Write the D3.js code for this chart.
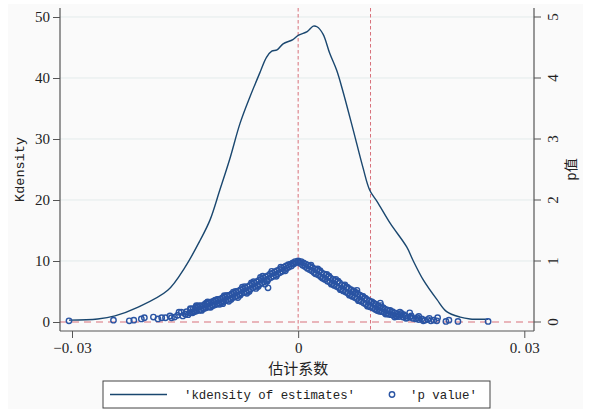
<!DOCTYPE html>
<html>
<head>
<meta charset="utf-8">
<script src="https://cdn.jsdelivr.net/npm/d3@7"></script>
<style>
  body { margin: 0; background: #ffffff; }
  svg { display: block; }
</style>
</head>
<body>
<div id="chart"></div>
<script>
// kdensity of estimates: [estimate, density]
var kdensity = [
  [-0.0304, 0.3], [-0.0266, 0.5], [-0.0243, 1.0], [-0.0213, 2.4], [-0.0173, 5.2],
  [-0.0150, 9.0], [-0.0130, 13.4], [-0.0117, 16.7], [-0.0104, 21.6], [-0.0091, 26.6],
  [-0.0077, 32.6], [-0.0064, 36.9], [-0.0051, 40.8], [-0.0042, 43.4], [-0.0035, 44.4],
  [-0.0028, 44.6], [-0.0020, 45.6], [-0.0007, 46.3], [0.0000, 47.0], [0.0012, 47.6],
  [0.0020, 48.5], [0.0025, 48.4], [0.0033, 47.2], [0.0042, 44.0], [0.0051, 41.3],
  [0.0059, 38.0], [0.0073, 31.5], [0.0086, 25.3], [0.0095, 21.6], [0.0105, 19.7],
  [0.0122, 16.2], [0.0144, 12.3], [0.0152, 10.2], [0.0166, 6.9], [0.0184, 3.7],
  [0.0197, 1.7], [0.0215, 0.8], [0.0228, 0.5], [0.0252, 0.45]
]

// p value of each estimate: [estimate, p]
var pLeft = [
  [-0.0304,0.02],[-0.0245,0.03],[-0.0224,0.02],[-0.0218,0.03],[-0.0208,0.05],[-0.0204,0.07],
  [-0.0192,0.08],[-0.0186,0.05],[-0.0181,0.07],[-0.0176,0.07],[-0.0170,0.10],[-0.0168,0.07],
  [-0.0164,0.08],[-0.0158,0.16],[-0.0153,0.10],[-0.0150,0.13],[-0.0148,0.17],[-0.0146,0.12],
  [-0.0144,0.15],[-0.0141,0.16],[-0.0142,0.21],[-0.0138,0.17],[-0.0139,0.22],[-0.0135,0.18],
  [-0.0136,0.24],[-0.0132,0.19],[-0.0133,0.25],[-0.0129,0.20],[-0.0130,0.26],[-0.0126,0.22],
  [-0.0127,0.27],[-0.0123,0.23],[-0.0124,0.29],[-0.0120,0.24],[-0.0121,0.30],[-0.0117,0.25],
  [-0.0118,0.31],[-0.0114,0.27],[-0.0115,0.33],[-0.0111,0.28],[-0.0112,0.34],[-0.0108,0.29],
  [-0.0109,0.35],[-0.0105,0.31],[-0.0106,0.37],[-0.0102,0.32],[-0.0103,0.38],[-0.0099,0.34],
  [-0.0100,0.40],[-0.0096,0.35],[-0.0097,0.41],[-0.0093,0.37],[-0.0094,0.43],[-0.0090,0.38],
  [-0.0091,0.44],[-0.0087,0.40],[-0.0088,0.46],[-0.0084,0.41],[-0.0085,0.47],[-0.0081,0.43],
  [-0.0082,0.49],[-0.0078,0.45],[-0.0079,0.51],[-0.0075,0.47],[-0.0076,0.53],[-0.0072,0.48],
  [-0.0073,0.54],[-0.0069,0.50],[-0.0070,0.56],[-0.0066,0.52],[-0.0067,0.58],[-0.0063,0.54],
  [-0.0064,0.60],[-0.0060,0.56],[-0.0061,0.62],[-0.0057,0.58],[-0.0058,0.64],[-0.0054,0.60],
  [-0.0055,0.66],[-0.0051,0.62],[-0.0052,0.68],[-0.0048,0.64],[-0.0049,0.70],[-0.0045,0.66],
  [-0.0046,0.72],[-0.0042,0.68],[-0.0043,0.74],[-0.0039,0.71],[-0.0040,0.76],[-0.0036,0.73],
  [-0.0037,0.79],[-0.0033,0.75],[-0.0034,0.80],[-0.0030,0.77],[-0.0031,0.82],[-0.0027,0.79],
  [-0.0028,0.84],[-0.0024,0.81],[-0.0025,0.86],[-0.0021,0.83],[-0.0022,0.88],[-0.0018,0.86],
  [-0.0019,0.90],[-0.0015,0.88],[-0.0016,0.92],[-0.0012,0.90],[-0.0013,0.94],[-0.0009,0.92],
  [-0.0010,0.95],[-0.0006,0.95],[-0.0007,0.97],[-0.0003,0.97],[-0.0004,0.99],[-0.0001,0.99],
  [-0.0040,0.56],[-0.0120,0.33],[-0.0100,0.30],[-0.0135,0.27],[-0.0160,0.11],
  [-0.0017,0.84],[-0.0023,0.90],[-0.0029,0.75],[-0.0035,0.83],[-0.0041,0.67],[-0.0047,0.75],
  [-0.0053,0.58],[-0.0059,0.66],[-0.0065,0.50],[-0.0071,0.58],[-0.0077,0.44],[-0.0083,0.50],
  [-0.0089,0.37],[-0.0095,0.43],[-0.0101,0.32],[-0.0107,0.37],[-0.0113,0.27],[-0.0119,0.32],
  [-0.0125,0.22],[-0.0131,0.27],[-0.0137,0.18],[-0.0143,0.22],[-0.0149,0.13],[-0.0155,0.16],
  [-0.0044,0.62],[-0.0050,0.73],[-0.0056,0.55],[-0.0062,0.64],[-0.0068,0.47],[-0.0074,0.57],
  [-0.0080,0.40],[-0.0086,0.49],[-0.0092,0.34],[-0.0098,0.43],[-0.0104,0.29],[-0.0110,0.36],
  [-0.0116,0.24],[-0.0122,0.31],[-0.0128,0.19],[-0.0134,0.26],[-0.0140,0.15]
]

var pRight = [
  [0.0000,1.00],[0.0001,0.99],[0.0003,0.96],[0.0004,0.99],[0.0006,0.93],[0.0007,0.97],
  [0.0009,0.91],[0.0010,0.95],[0.0012,0.88],[0.0013,0.93],[0.0015,0.86],[0.0016,0.91],
  [0.0018,0.84],[0.0019,0.89],[0.0021,0.81],[0.0022,0.87],[0.0024,0.79],[0.0025,0.85],
  [0.0027,0.77],[0.0028,0.83],[0.0030,0.74],[0.0031,0.81],[0.0033,0.72],[0.0034,0.79],
  [0.0036,0.70],[0.0037,0.77],[0.0039,0.67],[0.0040,0.74],[0.0042,0.65],[0.0043,0.72],
  [0.0045,0.63],[0.0046,0.70],[0.0048,0.60],[0.0049,0.68],[0.0051,0.58],[0.0052,0.66],
  [0.0054,0.56],[0.0055,0.64],[0.0057,0.54],[0.0058,0.61],[0.0060,0.51],[0.0061,0.59],
  [0.0063,0.49],[0.0064,0.57],[0.0066,0.47],[0.0067,0.55],[0.0069,0.45],[0.0070,0.53],
  [0.0072,0.42],[0.0073,0.50],[0.0075,0.40],[0.0076,0.48],[0.0078,0.38],[0.0079,0.46],
  [0.0081,0.36],[0.0082,0.44],[0.0084,0.34],[0.0085,0.42],[0.0087,0.31],[0.0088,0.39],
  [0.0090,0.29],[0.0091,0.37],[0.0093,0.27],[0.0094,0.35],[0.0096,0.25],[0.0097,0.33],
  [0.0099,0.23],[0.0100,0.31],[0.0102,0.21],[0.0103,0.29],[0.0105,0.19],[0.0106,0.27],
  [0.0108,0.18],[0.0109,0.24],[0.0111,0.17],[0.0112,0.23],[0.0114,0.16],[0.0115,0.21],
  [0.0117,0.14],[0.0118,0.20],[0.0120,0.13],[0.0121,0.18],[0.0123,0.12],[0.0124,0.16],
  [0.0126,0.11],[0.0128,0.15],[0.0130,0.10],[0.0132,0.13],[0.0134,0.09],[0.0136,0.12],
  [0.0139,0.08],[0.0142,0.10],[0.0145,0.07],[0.0148,0.08],[0.0152,0.06],[0.0156,0.05],
  [0.0160,0.04],[0.0164,0.05],[0.0168,0.03],[0.0172,0.04],[0.0176,0.02],[0.0180,0.03],
  [0.0184,0.02],[0.0196,0.01],[0.0200,0.03],[0.0212,0.01],[0.0252,0.01],
  [0.0109,0.31],[0.0078,0.52],[0.0148,0.15],[0.0185,0.07],[0.0160,0.09],[0.0135,0.16],
  [0.0017,0.93],[0.0023,0.79],[0.0029,0.84],[0.0035,0.70],[0.0041,0.75],[0.0047,0.61],
  [0.0053,0.67],[0.0059,0.52],[0.0065,0.57],[0.0071,0.43],[0.0077,0.48],[0.0083,0.34],
  [0.0089,0.39],[0.0095,0.25],[0.0101,0.30],[0.0107,0.18],[0.0113,0.23],[0.0119,0.13],
  [0.0125,0.17],[0.0131,0.09],[0.0137,0.14],[0.0143,0.06],[0.0150,0.10],[0.0158,0.07],
  [0.0166,0.02],[0.0174,0.06],
  [0.0026,0.87],[0.0032,0.72],[0.0038,0.78],[0.0044,0.62],[0.0050,0.70],[0.0056,0.53],
  [0.0062,0.61],[0.0068,0.44],[0.0074,0.51],[0.0080,0.35],[0.0086,0.42],[0.0092,0.26],
  [0.0098,0.33],[0.0104,0.20],[0.0110,0.27],[0.0116,0.13],[0.0122,0.19],[0.0128,0.08],
  [0.0140,0.12]
]

var xTicks = [-0.03, 0, 0.03]
var xTickLabels = ["\u22120. 03", "0", "0. 03"]
var yTicks = [0, 10, 20, 30, 40, 50]
var y2Ticks = [0, 1, 2, 3, 4, 5]
var refX = [0, 0.0096]   // vertical reference lines
var refY = 0             // horizontal reference line

var width = 591, height = 409
var plot = { left: 60, right: 534, top: 8, bottom: 331 }

var navy = "#1a476f", blue = "#2a54a3", red = "#d8707a"

var svg = d3.select("#chart").append("svg")
  .attr("width", width)
  .attr("height", height)

// graph region
svg.append("rect")
  .attr("x", 8).attr("y", 4)
  .attr("width", 575).attr("height", 405)
  .attr("fill", "#fafafa")

var xScale = d3.scaleLinear().domain([-0.03, 0.03]).range([72, 524.3])
var yScale = d3.scaleLinear().domain([0, 50]).range([322, 17])
var y2Scale = d3.scaleLinear().domain([0, 5]).range([322, 17])

// gridlines
svg.append("g")
  .selectAll("line")
  .data(yTicks.filter(d => d > 0))
  .enter().append("line")
  .attr("x1", plot.left).attr("x2", plot.right)
  .attr("y1", d => yScale(d)).attr("y2", d => yScale(d))
  .attr("stroke", "#e3ebeb")
  .attr("stroke-width", 1)

// reference lines
svg.append("g")
  .selectAll("line")
  .data(refX)
  .enter().append("line")
  .attr("x1", d => xScale(d)).attr("x2", d => xScale(d))
  .attr("y1", plot.top).attr("y2", plot.bottom)
  .attr("stroke", red)
  .attr("stroke-width", 1)
  .attr("stroke-dasharray", "3.5,2.5")

svg.append("line")
  .attr("x1", plot.left).attr("x2", plot.right)
  .attr("y1", yScale(refY)).attr("y2", yScale(refY))
  .attr("stroke", red)
  .attr("stroke-width", 1)
  .attr("stroke-dasharray", "7,5")

// kdensity curve
var line = d3.line()
  .x(d => xScale(d[0]))
  .y(d => yScale(d[1]))
  .curve(d3.curveCatmullRom)

svg.append("path")
  .datum(kdensity)
  .attr("d", line)
  .attr("fill", "none")
  .attr("stroke", navy)
  .attr("stroke-width", 1.4)

// p values
svg.append("g")
  .selectAll("circle")
  .data(pLeft.concat(pRight))
  .enter().append("circle")
  .attr("cx", d => xScale(d[0]))
  .attr("cy", d => y2Scale(d[1]))
  .attr("r", 2.7)
  .attr("fill", "none")
  .attr("stroke", blue)
  .attr("stroke-width", 1.4)

// axes
var tickFont = "'Liberation Serif', 'DejaVu Serif', serif"

var yAxis = d3.axisLeft(yScale).tickValues(yTicks).tickSize(7).tickPadding(3)
var gy = svg.append("g")
  .attr("transform", "translate(" + plot.left + ",0)")
  .call(yAxis)
gy.select(".domain").remove()

var y2Axis = d3.axisRight(y2Scale).tickValues(y2Ticks)
  .tickFormat(d3.format("d")).tickSize(7).tickPadding(3)
var gy2 = svg.append("g")
  .attr("transform", "translate(" + plot.right + ",0)")
  .call(y2Axis)
gy2.select(".domain").remove()
gy2.selectAll(".tick").attr("transform", "translate(0,0)")
gy2.selectAll(".tick line")
  .attr("y1", d => y2Scale(d)).attr("y2", d => y2Scale(d))
gy2.selectAll(".tick text")
  .attr("text-anchor", "middle")
  .attr("x", 0).attr("y", 0)
  .attr("dy", "0.35em")
  .attr("transform", d => "translate(19," + y2Scale(d) + ") rotate(-90)")

var xAxis = d3.axisBottom(xScale).tickValues(xTicks)
  .tickFormat((d, i) => xTickLabels[i]).tickSize(7).tickPadding(4)
var gx = svg.append("g")
  .attr("transform", "translate(0," + plot.bottom + ")")
  .call(xAxis)
gx.select(".domain").remove()

svg.selectAll(".tick line").attr("stroke", "#555").attr("stroke-width", 1)
svg.selectAll(".tick text")
  .attr("fill", "#222")
  .style("font-family", tickFont)
  .style("font-size", "15px")

// axis lines
svg.append("line")
  .attr("x1", plot.left).attr("x2", plot.left)
  .attr("y1", plot.top).attr("y2", plot.bottom)
  .attr("stroke", "#555").attr("stroke-width", 1.2)
svg.append("line")
  .attr("x1", plot.right).attr("x2", plot.right)
  .attr("y1", plot.top).attr("y2", plot.bottom)
  .attr("stroke", "#555").attr("stroke-width", 1.2)
svg.append("line")
  .attr("x1", plot.left).attr("x2", plot.right)
  .attr("y1", plot.bottom).attr("y2", plot.bottom)
  .attr("stroke", "#555").attr("stroke-width", 1.2)

// axis titles
var monoFont = "'Liberation Mono', 'Noto Sans CJK SC', monospace"
var midY = (plot.top + plot.bottom) / 2

svg.append("text")
  .attr("transform", "translate(24," + midY + ") rotate(-90)")
  .attr("text-anchor", "middle")
  .style("font-family", monoFont)
  .style("font-size", "13.5px")
  .attr("fill", "#222")
  .text("Kdensity")

svg.append("text")
  .attr("transform", "translate(576," + midY + ") rotate(-90)")
  .attr("text-anchor", "middle")
  .style("font-family", monoFont)
  .style("font-size", "14px")
  .attr("fill", "#222")
  .text("p值")

svg.append("text")
  .attr("x", xScale(0)).attr("y", 374)
  .attr("text-anchor", "middle")
  .style("font-family", "'Noto Sans CJK SC', sans-serif")
  .style("font-size", "15px")
  .attr("fill", "#222")
  .text("估计系数")

// legend
var legend = svg.append("g")
legend.append("rect")
  .attr("x", 103).attr("y", 381)
  .attr("width", 387).attr("height", 27)
  .attr("fill", "#ffffff")
  .attr("stroke", "#444").attr("stroke-width", 1)
legend.append("line")
  .attr("x1", 110).attr("x2", 167)
  .attr("y1", 394.5).attr("y2", 394.5)
  .attr("stroke", navy).attr("stroke-width", 1.4)
legend.append("text")
  .attr("x", 184).attr("y", 399)
  .style("font-family", monoFont)
  .style("font-size", "12.4px")
  .attr("fill", "#222")
  .text("'kdensity of estimates'")
legend.append("circle")
  .attr("cx", 392).attr("cy", 394.5).attr("r", 2.7)
  .attr("fill", "none").attr("stroke", blue).attr("stroke-width", 1.4)
legend.append("text")
  .attr("x", 410).attr("y", 399)
  .style("font-family", monoFont)
  .style("font-size", "12.4px")
  .attr("fill", "#222")
  .text("'p value'")
</script>
</body>
</html>
